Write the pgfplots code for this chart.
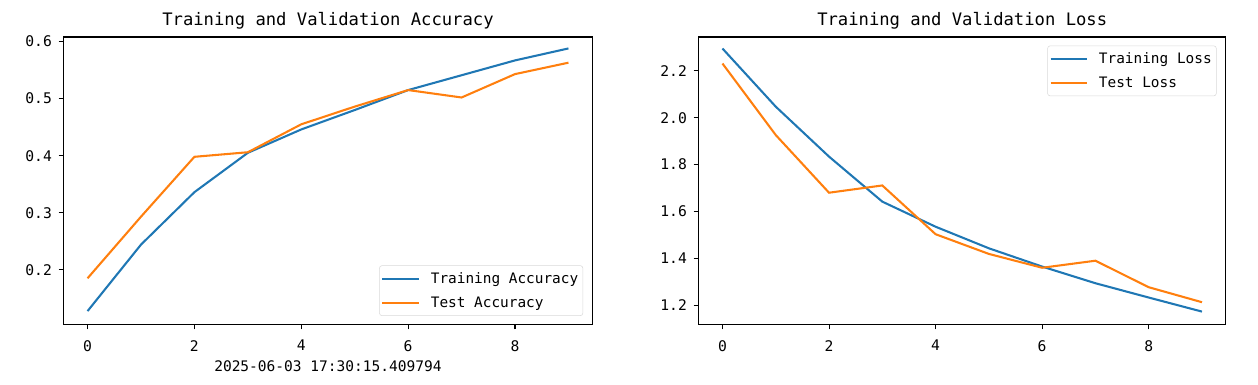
\documentclass[border=0pt]{standalone}
\usepackage{fontspec}
\setmainfont{DejaVu Sans Mono}
\usepackage{pgfplots}
\pgfplotsset{compat=1.18}
\definecolor{tabblue}{HTML}{1F77B4}
\definecolor{taborange}{HTML}{FF7F0E}
\pgfplotstableread{
x trn tst
0 0.1275 0.185
1 0.244 0.293
2 0.336 0.398
3 0.405 0.406
4 0.446 0.455
5 0.480 0.486
6 0.515 0.515
7 0.541 0.502
8 0.567 0.543
9 0.588 0.563
}\acc
\pgfplotstableread{
x trn tst
0 2.295 2.231
1 2.047 1.926
2 1.834 1.680
3 1.642 1.711
4 1.535 1.503
5 1.443 1.419
6 1.365 1.360
7 1.294 1.390
8 1.233 1.277
9 1.173 1.213
}\loss
\begin{document}
\begin{tikzpicture}[x=1pt,y=1pt]
\path[use as bounding box] (0,0) rectangle (943.5,288.75);
\pgfplotsset{
  myax/.style={
    scale only axis, width=396.75pt, height=215.6pt,
    xmin=-0.45, xmax=9.45, xtick={0,2,4,6,8},
    axis line style={line width=0.8pt},
    tick align=outside, xtick pos=bottom, ytick pos=left,
    major tick length=3.7pt,
    tick style={black, line width=0.8pt},
    ticklabel style={font=\fontsize{11}{13}\selectfont},
    xticklabel style={yshift=-4.5pt},
    yticklabel style={xshift=-1.5pt},
    /pgf/number format/assume math mode=true,
    yticklabel style={/pgf/number format/fixed, /pgf/number format/precision=1, /pgf/number format/fixed zerofill},
    title style={at={(0.5,1)}, anchor=base, yshift=2.5pt, font=\fontsize{12.9}{15}\selectfont},
    legend cell align=left,
    legend image code/.code={\draw[##1] (0pt,0pt) -- (27.5pt,0pt);},
    every axis plot/.append style={line width=1.55pt},
    legend style={draw=black!15, rounded corners=2pt, font=\fontsize{10.8}{13}\selectfont, fill=white, fill opacity=0.8, text opacity=1, row sep=4.5pt, column sep=6pt, inner xsep=1.5pt, inner ysep=3pt},
  }
}
\begin{axis}[myax, at={(47.625pt,45.375pt)}, anchor=south west,
  ymin=0.104, ymax=0.608, ytick={0.2,0.3,0.4,0.5,0.6},
  title={Training and Validation Accuracy},
  xlabel={2025-06-03 17:30:15.409794},
  xlabel style={at={(0.5,0)}, anchor=base, yshift=-35.6pt, font=\fontsize{10.9}{12}\selectfont},
  legend style={at={(1,0)}, anchor=south east, xshift=-7pt, yshift=6.4pt}]
\addplot[tabblue] table[x=x,y=trn]{\acc};
\addlegendentry{Training Accuracy}
\addplot[taborange] table[x=x,y=tst]{\acc};
\addlegendentry{Test Accuracy}
\end{axis}
\begin{axis}[myax, at={(523.875pt,45.375pt)}, anchor=south west, width=395.6pt,
  ymin=1.118, ymax=2.344, ytick={1.2,1.4,1.6,1.8,2.0,2.2},
  title={Training and Validation Loss},
  legend style={at={(1,1)}, anchor=north east, xshift=-7pt, yshift=-6.4pt}]
\addplot[tabblue] table[x=x,y=trn]{\loss};
\addlegendentry{Training Loss}
\addplot[taborange] table[x=x,y=tst]{\loss};
\addlegendentry{Test Loss}
\end{axis}
\end{tikzpicture}
\end{document}
